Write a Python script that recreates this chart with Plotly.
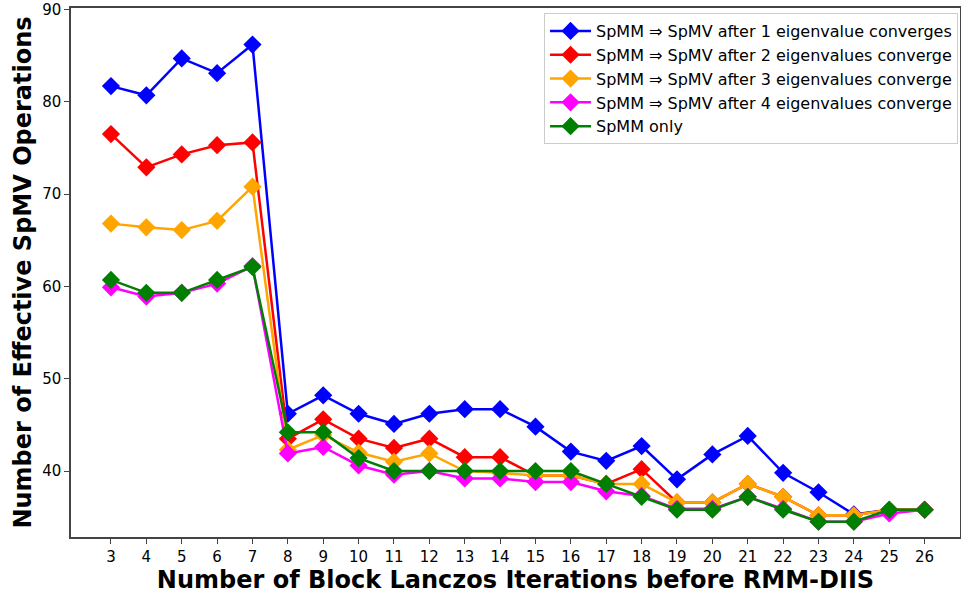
import plotly.graph_objects as go

iterations = list(range(3, 27))

spmv_after_1 = [81.7, 80.7, 84.7, 83.1, 86.2, 46.2, 48.2, 46.2, 45.1, 46.2, 46.7, 46.7,
                44.8, 42.1, 41.1, 42.7, 39.1, 41.8, 43.8, 39.8, 37.7, 35.3, 35.8, 35.8]
spmv_after_2 = [76.5, 72.9, 74.3, 75.3, 75.6, 43.5, 45.6, 43.5, 42.5, 43.5, 41.5, 41.5,
                39.5, 39.5, 38.6, 40.2, 36.6, 36.6, 38.6, 37.2, 35.2, 35.2, 35.8, 35.8]
spmv_after_3 = [66.8, 66.4, 66.1, 67.1, 70.8, 42.3, 43.9, 42.0, 41.0, 41.9, 40.0, 39.8,
                39.5, 39.5, 38.6, 38.6, 36.6, 36.6, 38.6, 37.2, 35.2, 35.2, 35.8, 35.8]
spmv_after_4 = [59.9, 58.9, 59.3, 60.3, 62.2, 41.9, 42.6, 40.6, 39.6, 40.0, 39.2, 39.2,
                38.8, 38.8, 37.8, 37.3, 35.9, 35.9, 37.2, 35.9, 34.5, 34.5, 35.4, 35.8]
spmm_only = [60.7, 59.3, 59.3, 60.7, 62.1, 44.2, 44.2, 41.4, 40.0, 40.0, 40.0, 40.0,
             40.0, 40.0, 38.6, 37.2, 35.8, 35.8, 37.2, 35.8, 34.5, 34.5, 35.8, 35.8]

series = [
    ("SpMM \u21d2 SpMV after 1 eigenvalue converges", spmv_after_1, "#0000ff"),
    ("SpMM \u21d2 SpMV after 2 eigenvalues converge", spmv_after_2, "#ff0000"),
    ("SpMM \u21d2 SpMV after 3 eigenvalues converge", spmv_after_3, "#ffa500"),
    ("SpMM \u21d2 SpMV after 4 eigenvalues converge", spmv_after_4, "#ff00ff"),
    ("SpMM only", spmm_only, "#008000"),
]

fig = go.Figure()
for i, (name, vals, color) in enumerate(series):
    fig.add_trace(go.Scatter(
        x=iterations, y=vals, name=name, mode="lines+markers",
        legendgroup=f"g{i}",
        line=dict(color=color, width=2.5),
        marker=dict(symbol="diamond", size=14, color=color),
    ))

fig.update_layout(
    width=961, height=597,
    margin=dict(l=71, r=1, t=8, b=60),
    plot_bgcolor="white", paper_bgcolor="white",
    font=dict(family="DejaVu Sans", size=15, color="black"),
    legend=dict(
        x=0.9978, y=0.9905, xanchor="right", yanchor="top",
        bordercolor="#cccccc", borderwidth=1, bgcolor="rgba(255,255,255,0.8)",
        font=dict(size=16), tracegroupgap=0, itemwidth=41,
    ),
    xaxis=dict(
        range=[1.87, 27.0], tickmode="array", tickvals=iterations,
        ticktext=[str(i) for i in iterations],
        showgrid=False, zeroline=False, automargin=False,
        showline=True, linecolor="#444444", linewidth=1.5, mirror=True,
        ticks="outside", ticklen=5, tickcolor="#444444",
        tickfont=dict(size=15), ticklabeloverflow="allow",
        title=dict(text="<b>Number of Block Lanczos Iterations before RMM-DIIS</b>",
                   font=dict(size=24), standoff=3),
    ),
    yaxis=dict(
        range=[32.85, 90.16], tickvals=[40, 50, 60, 70, 80, 90],
        showgrid=False, zeroline=False, automargin=False,
        showline=True, linecolor="#444444", linewidth=1.5, mirror=True,
        ticks="outside", ticklen=5, tickcolor="#444444",
        tickfont=dict(size=15), ticklabeloverflow="allow",
        title=dict(text="<b>Number of Effective SpMV Operations</b>",
                   font=dict(size=24), standoff=4),
    ),
)

fig.write_html("out.html", config={"displayModeBar": False},
               post_script="document.body.style.margin='0';document.body.style.overflow='hidden';")
